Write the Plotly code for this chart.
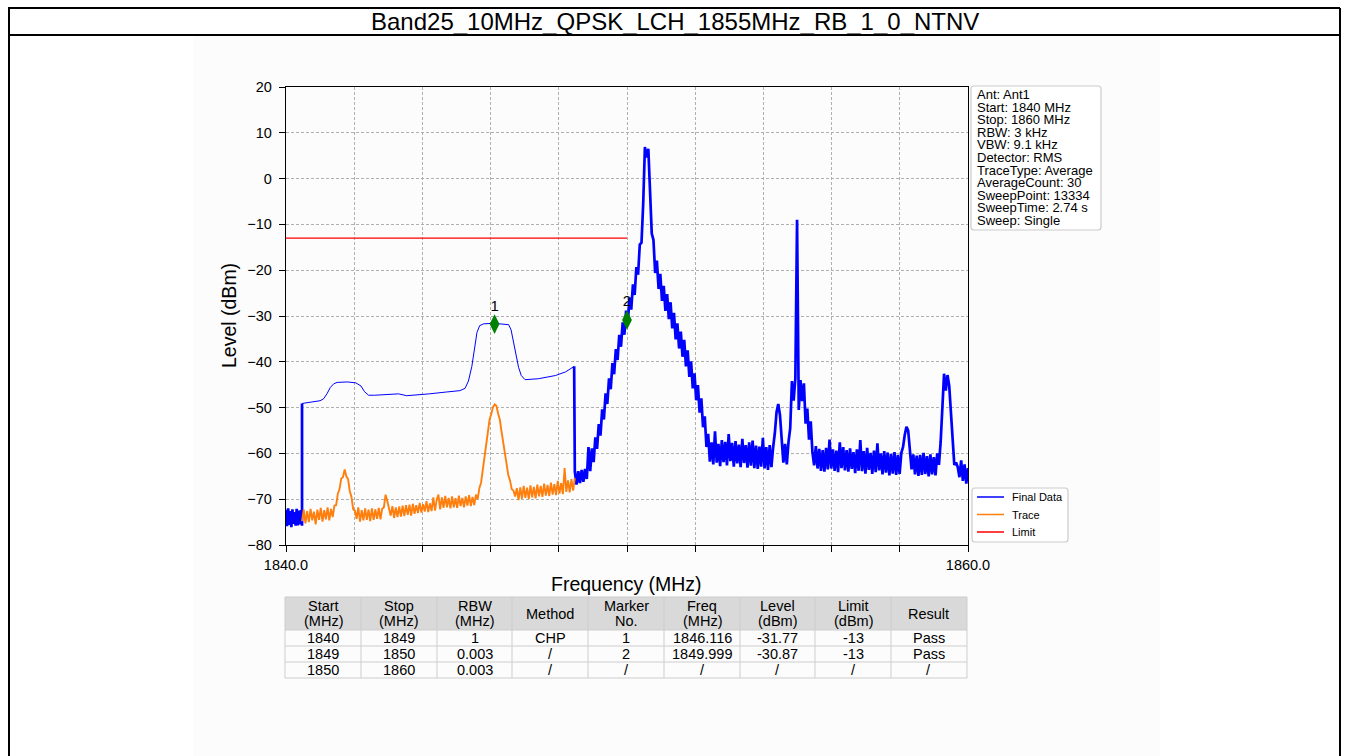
import numpy as np
import plotly.graph_objects as go

# ---------------------------------------------------------------- data
TITLE = "Band25_10MHz_QPSK_LCH_1855MHz_RB_1_0_NTNV"

START_MHZ, STOP_MHZ = 1840.0, 1860.0
SEG1_STOP = 1840.47      # end of the first 3 kHz sweep segment
SEG2_STOP = 1848.47      # end of the 1 MHz channel-power segment

# Final Data, 1840.00 - 1840.47 MHz (3 kHz RBW)
floor_levels = [-72.3, -75.9, -72.0, -75.6, -72.6, -76.1, -72.2, -75.4,
                -72.8, -75.8, -72.1, -75.7, -72.5, -75.5, -72.4, -75.8]

# Final Data, channel power result 1840.47 - 1848.47 MHz
chp_freq = [1840.47, 1840.70, 1841.00, 1841.10, 1841.20, 1841.30, 1841.40,
            1841.50, 1841.80, 1842.05, 1842.20, 1842.30, 1842.42, 1842.60,
            1843.00, 1843.30, 1843.54, 1843.80, 1844.20, 1844.70, 1845.10,
            1845.25, 1845.35, 1845.45, 1845.52, 1845.60, 1845.68, 1845.80,
            1846.10, 1846.40, 1846.53, 1846.60, 1846.67, 1846.75, 1846.82,
            1846.90, 1847.01, 1847.40, 1847.90, 1848.20, 1848.45]
chp_level = [-49.1, -48.9, -48.5, -48.1, -47.0, -45.6, -44.8,
             -44.5, -44.4, -44.6, -45.3, -46.5, -47.3, -47.3,
             -47.1, -47.0, -47.4, -47.3, -47.0, -46.6, -46.3,
             -45.8, -44.2, -41.0, -37.2, -33.6, -32.1, -31.7,
             -31.6, -31.7, -31.9, -33.0, -35.4, -38.8, -41.2,
             -43.0, -43.9, -43.7, -43.0, -42.2, -41.0]

# Raw trace, 1840.47 - 1848.47 MHz
trace_levels = [
    -74.8, -72.3, -75.3, -72.6, -75.0, -72.1, -74.6, -72.7, -75.5, -72.3,
    -74.5, -71.9, -74.9, -72.4, -74.4, -71.8, -74.6, -72.1, -73.9, -71.4,
    -71.3, -68.8, -67.8, -65.5, -65.2, -63.5, -65.0, -65.6, -68.2, -69.5,
    -72.2, -72.5,
    -74.3, -71.8, -74.9, -72.4, -74.6, -72.0, -74.5, -72.3, -74.8, -72.0,
    -74.5, -72.2, -74.3, -71.9, -74.4, -72.1,
    -71.8, -69.0, -70.4, -72.4,
    -73.6, -71.5, -74.1, -71.8, -73.9, -71.6, -73.8, -71.4, -73.7, -71.3,
    -73.4, -71.2, -73.6, -71.0, -73.2, -71.3, -73.0, -70.8, -72.9, -71.1,
    -72.7, -70.4, -72.8, -70.9, -72.6, -69.6, -72.5,
    -70.1, -69.0, -72.2, -69.6, -71.9, -69.3, -71.8, -69.7, -72.0, -69.4,
    -71.8, -69.8, -71.9, -69.2, -71.5, -69.7, -71.8, -69.4, -71.4, -69.1,
    -71.5, -69.5, -71.3, -69.0,
    -70.0, -67.6, -66.4, -63.4, -61.0, -57.7, -55.4, -52.6, -51.4, -49.9,
    -49.3, -49.6, -51.3, -52.6, -55.2, -57.4, -60.5, -62.3, -64.8, -65.9,
    -67.8, -68.1, -69.4,
    -67.6, -70.2, -67.4, -69.9, -67.1, -69.7, -67.5, -70.0, -67.0, -69.6,
    -67.3, -69.8, -66.8, -69.4, -67.1, -69.5, -66.6, -69.2, -66.9, -69.3,
    -66.4, -69.0, -66.7, -69.1, -66.0, -68.8, -66.5, -68.9, -63.2, -68.4,
    -65.9, -68.5, -65.6, -68.1, -65.4,
]

# Final Data, 1848.47 - 1860.00 MHz (3 kHz RBW)
final_levels = [
    -64.0, -66.8, -63.9, -66.5, -63.6, -66.2, -63.4,
    -65.6, -58.6, -63.9, -58.9, -61.9, -56.5, -59.0, -53.6, -56.1, -50.4,
    -52.6, -46.9, -49.2, -43.6, -46.0, -40.3, -42.7, -37.2, -39.6, -34.1,
    -36.7, -31.4, -34.1, -28.8, -31.5, -26.0, -28.6, -23.1, -25.4, -19.3,
    -21.0, -14.4, -14.0, -5.5,
    6.9, 4.6, 6.5,
    -3.0, -12.0, -13.4, -20.6, -17.9, -24.1, -20.8, -26.7, -23.4, -28.9,
    -25.2, -30.7, -27.0, -32.7, -29.3, -35.1, -31.6, -37.1, -33.4, -38.9,
    -35.2, -41.0, -37.5, -43.3, -39.9, -45.8, -42.5, -48.4, -45.1, -51.1,
    -48.0, -54.3, -51.9, -58.6, -55.7, -61.8,
    -57.6, -62.4, -55.2, -62.0, -57.9, -62.8, -57.1, -61.9, -57.5, -62.6,
    -55.8, -61.7, -57.7, -62.9, -57.3, -62.2, -58.1, -63.0, -56.8, -62.1,
    -58.2, -63.1, -57.6, -62.7, -57.2, -63.2, -58.3, -63.4, -58.5, -62.9,
    -56.6, -63.3, -58.6, -63.6, -58.2, -63.0, -58.7,
    -55.6, -51.0, -49.2, -51.6, -57.0, -62.0, -57.9, -62.4, -57.5, -54.5,
    -44.2, -48.5, -43.6, -9.0, -50.5, -44.0, -48.6, -44.7, -53.5, -50.2,
    -57.0, -53.0, -59.8,
    -62.6, -58.4, -63.3, -59.0, -63.8, -59.3, -64.0, -58.8, -63.5, -57.0,
    -63.3, -59.1, -63.8, -59.4, -64.1, -57.6, -63.2, -58.6, -63.7, -59.3,
    -64.0, -58.9, -63.4, -59.7, -64.3, -59.1, -63.8, -57.1, -63.9, -59.5,
    -64.4, -58.8, -63.6, -59.9, -64.5, -59.4, -64.1, -57.8, -63.7, -60.0,
    -64.6, -59.5, -64.2, -59.8, -64.8, -60.1, -64.4, -59.7, -64.7, -60.3,
    -64.5, -59.9, -58.6,
    -56.0, -54.2, -55.0, -59.0, -63.5, -60.2, -64.6, -60.5, -64.9, -60.3,
    -64.7, -59.9, -64.5, -60.6, -65.0, -60.2, -64.6, -60.8, -64.8, -60.0,
    -62.5,
    -57.5, -48.5, -42.6, -46.3, -42.9, -45.2, -50.5, -58.0, -62.5, -62.0,
    -63.0, -65.2, -61.5, -66.0, -62.4, -66.6, -63.2,
]

limit_freq = [1840.0, 1849.0, 1850.0]
limit_level = [-13.0, -13.0, -13.0]

marker_no = ["1", "2"]
marker_freq = [1846.116, 1849.999]
marker_level = [-31.77, -30.87]

series_names = ["Final Data", "Trace", "Limit"]

info_lines = ["Ant: Ant1", "Start: 1840 MHz", "Stop: 1860 MHz", "RBW: 3 kHz",
              "VBW: 9.1 kHz", "Detector: RMS", "TraceType: Average",
              "AverageCount: 30", "SweepPoint: 13334", "SweepTime: 2.74 s",
              "Sweep: Single"]

x_tick_vals = list(range(1840, 1861, 2))
x_tick_text = ["1840.0"] + [""] * 9 + ["1860.0"]
y_tick_vals = list(range(-80, 21, 10))

table_header = [["Start", "(MHz)"], ["Stop", "(MHz)"], ["RBW", "(MHz)"],
                ["Method"], ["Marker", "No."], ["Freq", "(MHz)"],
                ["Level", "(dBm)"], ["Limit", "(dBm)"], ["Result"]]
seg_start = [1840, 1849, 1850]
seg_stop = [1849, 1850, 1860]
seg_rbw = ["1", "0.003", "0.003"]
seg_method = ["CHP", "/", "/"]
seg_limit = ["-13", "-13", "/"]
seg_result = ["Pass", "Pass", "/"]

# ---------------------------------------------------------------- helpers
W, H = 1348, 756
MAIN = "Liberation Sans, Arial, sans-serif"
NARROW = "Liberation Sans Narrow, Arial Narrow, Liberation Sans, Arial, sans-serif"


def px(x):
    return x / W


def py(y):
    return 1 - y / H


def minus(v):
    return str(v).replace("-", "\u2212")


def label(text, x, y, size, family=MAIN, xanchor="center", **kw):
    return dict(text=text, x=px(x), y=py(y), xref="paper", yref="paper",
                xanchor=xanchor, yanchor="middle", showarrow=False,
                font=dict(family=family, size=size, color="black"), **kw)


def rounded_rect(x0, y0, x1, y1, r=3):
    rx, ry = r / W, r / H
    a, b, c, d = px(x0), px(x1), py(y0), py(y1)
    return (f"M {a+rx},{c} L {b-rx},{c} Q {b},{c} {b},{c-ry} "
            f"L {b},{d+ry} Q {b},{d} {b-rx},{d} L {a+rx},{d} "
            f"Q {a},{d} {a},{d+ry} L {a},{c-ry} Q {a},{c} {a+rx},{c} Z")


def hline(x0, x1, y, color, width):
    return dict(type="line", xref="paper", yref="paper",
                x0=px(x0), x1=px(x1), y0=py(y), y1=py(y),
                line=dict(color=color, width=width))


def vline(x, y0, y1, color, width):
    return dict(type="line", xref="paper", yref="paper",
                x0=px(x), x1=px(x), y0=py(y0), y1=py(y1),
                line=dict(color=color, width=width))


# ---------------------------------------------------------------- traces
f_floor = np.linspace(START_MHZ, SEG1_STOP, len(floor_levels))
f_final = np.linspace(SEG2_STOP, STOP_MHZ, len(final_levels))
f_trace = np.linspace(SEG1_STOP, SEG2_STOP, len(trace_levels))

BLUE, ORANGE, RED = "#0000ff", "#ff7f0e", "#ff0000"
series_colors = [BLUE, ORANGE, RED]
NOISY_W = 2.7

fig = go.Figure()
# Final Data: narrow-RBW sweep segments (dense noise) and the smooth CHP segment
fig.add_trace(go.Scatter(x=np.concatenate([f_floor, chp_freq[:1]]),
                         y=np.concatenate([floor_levels, chp_level[:1]]),
                         mode="lines", line=dict(color=BLUE, width=NOISY_W),
                         name=series_names[0], hoverinfo="skip"))
fig.add_trace(go.Scatter(x=chp_freq, y=chp_level, mode="lines",
                         name=series_names[0], line=dict(color=BLUE, width=1.0)))
fig.add_trace(go.Scatter(x=np.concatenate([chp_freq[-1:], f_final]),
                         y=np.concatenate([chp_level[-1:], final_levels]),
                         mode="lines", line=dict(color=BLUE, width=NOISY_W),
                         name=series_names[0], hoverinfo="skip"))
fig.add_trace(go.Scatter(x=f_trace, y=trace_levels, mode="lines",
                         name=series_names[1], line=dict(color=ORANGE, width=1.9)))
fig.add_trace(go.Scatter(x=limit_freq, y=limit_level, mode="lines",
                         name=series_names[2], line=dict(color=RED, width=1.3)))
fig.add_trace(go.Scatter(x=marker_freq, y=marker_level, mode="markers+text",
                         text=marker_no, textposition="top center",
                         textfont=dict(family=MAIN, size=15, color="black"),
                         marker=dict(symbol="diamond-tall", size=14, color="#008000"),
                         hoverinfo="skip"))

# ---------------------------------------------------------------- shapes
shapes = [dict(type="rect", xref="paper", yref="paper", layer="below",
               x0=px(193), x1=px(1160), y0=py(756), y1=py(36),
               fillcolor="#fcfcfc", line=dict(width=0))]
# page frame with title row
shapes += [hline(8, 1340, 8, "black", 2), hline(8, 1340, 35, "black", 2),
           vline(9, 8, 756, "black", 2), vline(1340, 8, 756, "black", 2)]

# info box
shapes.append(dict(type="path", xref="paper", yref="paper",
                   path=rounded_rect(971, 86, 1101, 230),
                   fillcolor="white", line=dict(color="#cccccc", width=1.2)))

# legend box with keys
shapes.append(dict(type="path", xref="paper", yref="paper",
                   path=rounded_rect(972, 488, 1068, 542),
                   fillcolor="white", line=dict(color="#cccccc", width=1.2)))
legend_rows = [497, 514.5, 532]
for yy, col in zip(legend_rows, series_colors):
    shapes.append(hline(977, 1004, yy, col, 1.5))

# results table
col_edges = [285, 361, 437, 512, 588, 664, 740, 815, 891, 967]
row_edges = [597, 630, 646, 662, 678]
shapes.append(dict(type="rect", xref="paper", yref="paper",
                   x0=px(col_edges[0]), x1=px(col_edges[-1]),
                   y0=py(row_edges[1]), y1=py(row_edges[0]),
                   fillcolor="#d9d9d9", line=dict(width=0)))
for xe in col_edges:
    shapes.append(vline(xe, row_edges[0], row_edges[-1], "#cdcdcd", 1))
for ye in row_edges:
    shapes.append(hline(col_edges[0], col_edges[-1], ye, "#cdcdcd", 1))

# ---------------------------------------------------------------- annotations
ann = [label(TITLE, 675, 21, 24),
       label("Frequency (MHz)", 626, 584, 19.5),
       label("Level (dBm)", 229, 316, 19.5, textangle=-90)]

# instrument settings: one text block, tight line pitch (base size sets the pitch)
info_text = "<br>".join(f"<span style='font-size:13px'>{s}</span>" for s in info_lines)
ann.append(label(info_text, 975, 157, 9.7, xanchor="left", align="left"))

for yy, name in zip(legend_rows, series_names):
    ann.append(label(name, 1010, yy, 11, xanchor="left"))

rows = []
for k in range(3):
    mk = marker_no[k] if k < len(marker_no) else "/"
    fq = f"{marker_freq[k]:.3f}" if k < len(marker_freq) else "/"
    lv = f"{marker_level[k]:.2f}" if k < len(marker_level) else "/"
    rows.append([str(seg_start[k]), str(seg_stop[k]), seg_rbw[k], seg_method[k],
                 mk, fq, lv, seg_limit[k], seg_result[k]])

for c, head in enumerate(table_header):
    xc = (col_edges[c] + col_edges[c + 1]) / 2
    ys = [613.5] if len(head) == 1 else [605.5, 621]
    for txt, yy in zip(head, ys):
        ann.append(label(txt, xc, yy, 14.5, family=NARROW))
    for r, row in enumerate(rows):
        yy = (row_edges[r + 1] + row_edges[r + 2]) / 2
        ann.append(label(row[c], xc, yy, 14.5, family=NARROW))

# ---------------------------------------------------------------- layout
axis_common = dict(showline=True, mirror=True, linecolor="black", linewidth=1.3,
                   ticks="outside", ticklen=6, tickwidth=1.2, tickcolor="black",
                   showgrid=True, gridcolor="#b0b0b0", gridwidth=0.8,
                   griddash="3px,2px", zeroline=False, automargin=False,
                   tickfont=dict(family=MAIN, size=14.5, color="black"))

fig.update_layout(
    width=W, height=H, autosize=False,
    margin=dict(l=0, r=0, t=0, b=0, pad=0, autoexpand=False),
    paper_bgcolor="white", plot_bgcolor="white",
    xaxis=dict(domain=[px(286), px(968)], range=[START_MHZ, STOP_MHZ],
               tickvals=x_tick_vals, ticktext=x_tick_text, **axis_common),
    yaxis=dict(domain=[py(545), py(87)], range=[-80, 20],
               tickvals=y_tick_vals, ticktext=[minus(v) for v in y_tick_vals],
               ticklabelstandoff=4, **axis_common),
    shapes=shapes,
    annotations=ann,
    showlegend=False,
)

fig.write_html("out.html")
